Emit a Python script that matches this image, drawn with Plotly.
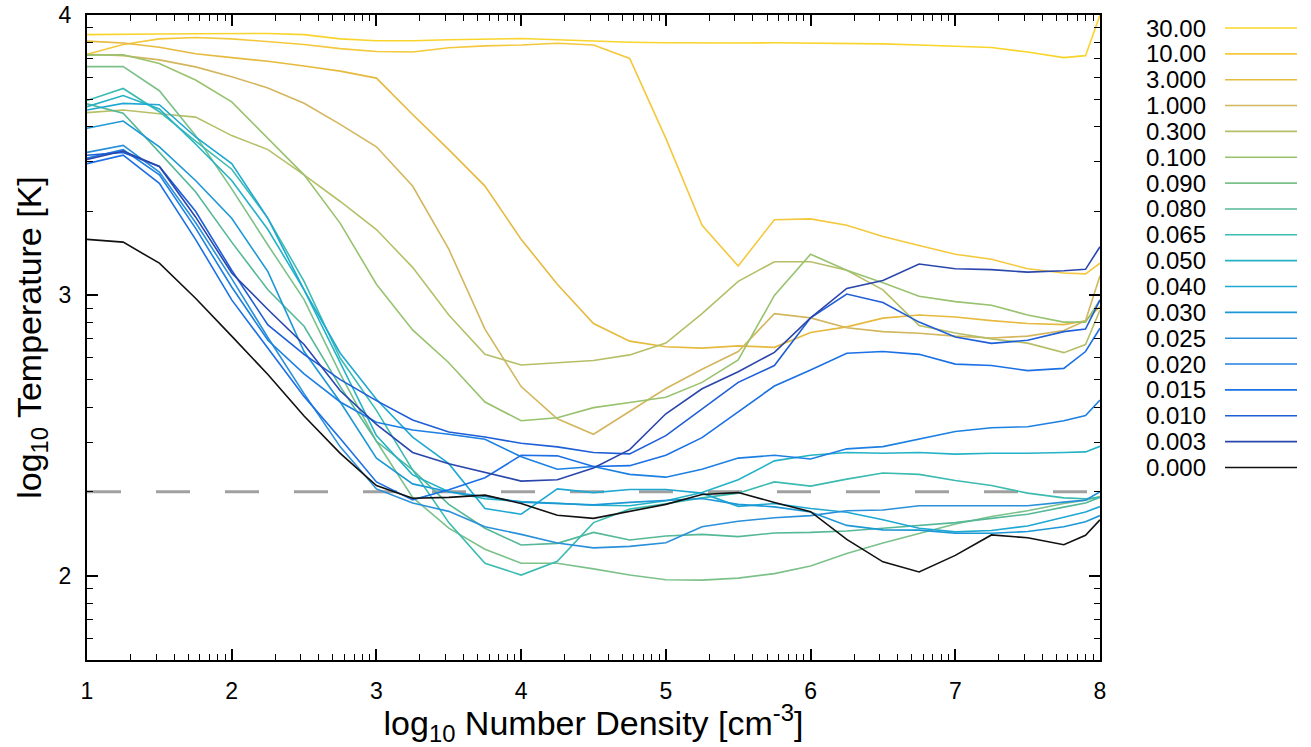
import math
import plotly.graph_objects as go

# ---------------- data ----------------
log_density = [1.0, 1.25, 1.5, 1.75, 2.0, 2.25, 2.5, 2.75, 3.0, 3.25, 3.5, 3.75, 4.0, 4.25,
               4.5, 4.75, 5.0, 5.25, 5.5, 5.75, 6.0, 6.25, 6.5, 6.75, 7.0, 7.25, 7.5, 7.75, 7.9, 8.0]

labels = ["30.00", "10.00", "3.000", "1.000", "0.300", "0.100", "0.090", "0.080", "0.065",
          "0.050", "0.040", "0.030", "0.025", "0.020", "0.015", "0.010", "0.003", "0.000"]

t_30 = [3.93, 3.932, 3.932, 3.933, 3.934, 3.934, 3.93, 3.915, 3.908, 3.908, 3.912, 3.915, 3.916, 3.912,
        3.907, 3.903, 3.901, 3.900, 3.900, 3.901, 3.900, 3.899, 3.897, 3.893, 3.888, 3.884, 3.868, 3.848, 3.855, 4.0]
t_10 = [3.86, 3.895, 3.915, 3.92, 3.915, 3.905, 3.895, 3.88, 3.87, 3.868, 3.883, 3.89, 3.893, 3.899,
        3.893, 3.845, 3.56, 3.25, 3.105, 3.27, 3.273, 3.25, 3.21, 3.178, 3.147, 3.129, 3.095, 3.08, 3.077, 3.115]
t_3 = [3.907, 3.90, 3.885, 3.862, 3.848, 3.835, 3.818, 3.80, 3.775, 3.645, 3.52, 3.39, 3.20, 3.04,
       2.90, 2.837, 2.817, 2.812, 2.82, 2.815, 2.868, 2.888, 2.919, 2.93, 2.923, 2.91, 2.90, 2.896, 2.91, 2.96]
t_1 = [3.86, 3.855, 3.84, 3.815, 3.78, 3.74, 3.685, 3.61, 3.53, 3.39, 3.165, 2.88, 2.675, 2.56,
       2.505, 2.585, 2.668, 2.737, 2.80, 2.935, 2.92, 2.885, 2.871, 2.865, 2.855, 2.848, 2.855, 2.875, 2.91, 3.07]
t_03 = [3.652, 3.661, 3.648, 3.636, 3.57, 3.52, 3.43, 3.335, 3.235, 3.10, 2.93, 2.79, 2.752, 2.76,
        2.768, 2.788, 2.83, 2.935, 3.05, 3.12, 3.12, 3.09, 3.02, 2.893, 2.866, 2.845, 2.83, 2.796, 2.825, 2.948]
t_01 = [3.857, 3.858, 3.827, 3.768, 3.69, 3.56, 3.43, 3.257, 3.04, 2.877, 2.76, 2.62, 2.553, 2.564,
        2.60, 2.618, 2.637, 2.69, 2.77, 3.0, 3.147, 3.09, 3.045, 2.997, 2.978, 2.965, 2.93, 2.905, 2.905, 2.984]
t_009 = [3.816, 3.816, 3.73, 3.57, 3.38, 3.18, 2.985, 2.72, 2.48, 2.28, 2.17, 2.095, 2.045, 2.045,
         2.025, 2.003, 1.986, 1.985, 1.992, 2.008, 2.035, 2.08, 2.117, 2.152, 2.185, 2.212, 2.232, 2.258, 2.27, 2.283]
t_008 = [3.683, 3.65, 3.51, 3.37, 3.19, 3.02, 2.89, 2.675, 2.48, 2.378, 2.255, 2.17, 2.11, 2.116,
         2.155, 2.128, 2.142, 2.148, 2.14, 2.153, 2.155, 2.16, 2.17, 2.18, 2.19, 2.205, 2.22, 2.245, 2.26, 2.28]
t_0065 = [3.695, 3.738, 3.655, 3.55, 3.45, 3.275, 3.05, 2.776, 2.59, 2.378, 2.19, 2.045, 2.003, 2.052,
          2.19, 2.238, 2.257, 2.278, 2.295, 2.335, 2.32, 2.345, 2.367, 2.362, 2.34, 2.322, 2.295, 2.278, 2.275, 2.28]
t_005 = [3.673, 3.713, 3.665, 3.54, 3.41, 3.235, 3.02, 2.76, 2.50, 2.36, 2.30, 2.275, 2.265, 2.259,
         2.252, 2.25, 2.268, 2.297, 2.343, 2.41, 2.43, 2.44, 2.437, 2.44, 2.434, 2.437, 2.437, 2.44, 2.442, 2.462]
t_004 = [3.661, 3.685, 3.68, 3.565, 3.47, 3.275, 3.02, 2.794, 2.63, 2.495, 2.40, 2.24, 2.22, 2.31,
         2.297, 2.308, 2.308, 2.295, 2.248, 2.258, 2.24, 2.227, 2.20, 2.17, 2.157, 2.162, 2.178, 2.21, 2.228, 2.247]
t_003 = [3.596, 3.622, 3.53, 3.41, 3.275, 3.085, 2.80, 2.62, 2.42, 2.328, 2.30, 2.283, 2.263, 2.257,
         2.253, 2.262, 2.27, 2.276, 2.255, 2.246, 2.228, 2.18, 2.164, 2.163, 2.152, 2.152, 2.158, 2.175, 2.193, 2.215]
t_0025 = [3.51, 3.535, 3.44, 3.26, 3.06, 2.85, 2.65, 2.46, 2.31, 2.26, 2.23, 2.175, 2.148, 2.117,
          2.10, 2.105, 2.118, 2.175, 2.195, 2.207, 2.215, 2.232, 2.235, 2.25, 2.25, 2.25, 2.25, 2.263, 2.27, 2.30]
t_002 = [3.49, 3.52, 3.43, 3.24, 3.03, 2.84, 2.72, 2.62, 2.548, 2.52, 2.505, 2.487, 2.425, 2.38,
         2.39, 2.362, 2.352, 2.38, 2.42, 2.43, 2.417, 2.453, 2.461, 2.488, 2.515, 2.528, 2.532, 2.553, 2.572, 2.627]
t_0015 = [3.47, 3.50, 3.40, 3.20, 2.984, 2.81, 2.64, 2.49, 2.335, 2.271, 2.307, 2.35, 2.43, 2.428,
          2.39, 2.393, 2.43, 2.493, 2.585, 2.677, 2.734, 2.794, 2.80, 2.79, 2.755, 2.75, 2.732, 2.74, 2.80, 2.883]
t_001 = [3.50, 3.51, 3.46, 3.30, 3.09, 2.895, 2.79, 2.70, 2.625, 2.556, 2.513, 2.495, 2.473, 2.46,
         2.44, 2.435, 2.50, 2.595, 2.69, 2.75, 2.92, 3.005, 2.975, 2.905, 2.852, 2.829, 2.84, 2.871, 2.88, 2.984]
t_0003 = [3.485, 3.515, 3.46, 3.28, 3.08, 2.95, 2.825, 2.66, 2.54, 2.44, 2.40, 2.368, 2.338, 2.343,
          2.385, 2.45, 2.578, 2.667, 2.728, 2.797, 2.92, 3.025, 3.053, 3.112, 3.095, 3.092, 3.083, 3.088, 3.093, 3.174]
t_0 = [3.20, 3.19, 3.115, 2.99, 2.855, 2.718, 2.57, 2.437, 2.322, 2.277, 2.28, 2.288, 2.258, 2.216,
       2.205, 2.23, 2.255, 2.29, 2.297, 2.262, 2.229, 2.13, 2.05, 2.014, 2.073, 2.146, 2.136, 2.111, 2.145, 2.20]

series = [t_30, t_10, t_3, t_1, t_03, t_01, t_009, t_008, t_0065,
          t_005, t_004, t_003, t_0025, t_002, t_0015, t_001, t_0003, t_0]

colors = ["#f9d42c", "#f4c83c", "#e6ba3e", "#d4b65e", "#b6bf68", "#98c26e", "#7cc18a", "#55b896",
          "#3cbbb0", "#24b2c6", "#1ea8d2", "#1c98d6", "#2a90da", "#1c80e2", "#1a70e4", "#1e5ed6",
          "#2a46ac", "#111111"]

threshold_T = 2.3
x_range = [1, 8]
y_range = [1.7, 4.0]

# ---------------- figure ----------------
FONT = "Liberation Sans, Arial, Helvetica, sans-serif"
PAGE_W, PAGE_H = 1311, 747
L, R, T, B = 87, 1100, 15, 660  # plot area in page pixels
W, H = R - L, B - T

fig = go.Figure()

fig.add_trace(go.Scatter(x=x_range, y=[threshold_T, threshold_T], mode="lines",
                         line=dict(color="#a0a0a0", width=3.2, dash="34px,35px"),
                         showlegend=False, hoverinfo="skip"))

for lab, ys, col in zip(labels, series, colors):
    fig.add_trace(go.Scatter(x=log_density, y=ys, mode="lines", name=lab,
                             line=dict(color=col, width=1.6), showlegend=False))


def px(xp):
    return (xp - L) / W


def py(yp):
    return (B - yp) / H


# legend drawn gnuplot-style: label then line sample
for i, (lab, col) in enumerate(zip(labels, colors)):
    yy = 28 + 25.85 * i
    fig.add_annotation(x=px(1208), y=py(yy), xref="paper", yref="paper", text=lab,
                       showarrow=False, xanchor="right", yanchor="middle",
                       font=dict(family=FONT, size=24, color="black"))
    fig.add_shape(type="line", xref="paper", yref="paper", x0=px(1225), x1=px(1297),
                  y0=py(yy), y1=py(yy), line=dict(color=col, width=1.6))

x_minor = [n + math.log10(k) for n in range(1, 8) for k in range(2, 10)]
y_minor = [n + math.log10(k) for n in range(1, 4) for k in range(2, 10) if 1.7 < n + math.log10(k) < 4]

axis_font = dict(family=FONT, size=23, color="black")
title_font = dict(family=FONT, size=34, color="black")
fig.update_xaxes(range=x_range, tickvals=[1, 2, 3, 4, 5, 6, 7, 8], ticktext=[str(v) for v in range(1, 9)],
                 ticks="inside", ticklen=11, tickwidth=1.5, tickcolor="black",
                 showline=True, linecolor="black", linewidth=2, mirror="allticks",
                 showgrid=False, zeroline=False, tickfont=axis_font, ticklabelstandoff=9,
                 ticklabeloverflow="allow",
                 minor=dict(tickmode="array", tickvals=x_minor, ticks="inside", ticklen=6,
                            tickwidth=1.2, tickcolor="black", showgrid=False),
                 title=dict(text="log<sub>10</sub> Number Density [cm<sup>-3</sup>]",
                            font=title_font, standoff=4))
fig.update_yaxes(range=y_range, tickvals=[2, 3, 4], ticktext=["2", "3", "4"],
                 ticks="inside", ticklen=11, tickwidth=1.5, tickcolor="black",
                 showline=True, linecolor="black", linewidth=2, mirror="allticks",
                 showgrid=False, zeroline=False, tickfont=axis_font, ticklabelstandoff=9,
                 ticklabeloverflow="allow",
                 minor=dict(tickmode="array", tickvals=y_minor, ticks="inside", ticklen=6,
                            tickwidth=1.2, tickcolor="black", showgrid=False),
                 title=dict(text="log<sub>10</sub> Temperature [K]", font=title_font, standoff=7))

fig.update_layout(width=PAGE_W, height=PAGE_H, plot_bgcolor="white", paper_bgcolor="white",
                  margin=dict(l=L, r=PAGE_W - R, t=T, b=PAGE_H - B, autoexpand=False),
                  showlegend=False)

# remove the browser's default page margin so the figure sits at the page origin
fig.write_html("out.html", config={"displayModeBar": False},
               post_script="document.body.style.margin='0px';")
